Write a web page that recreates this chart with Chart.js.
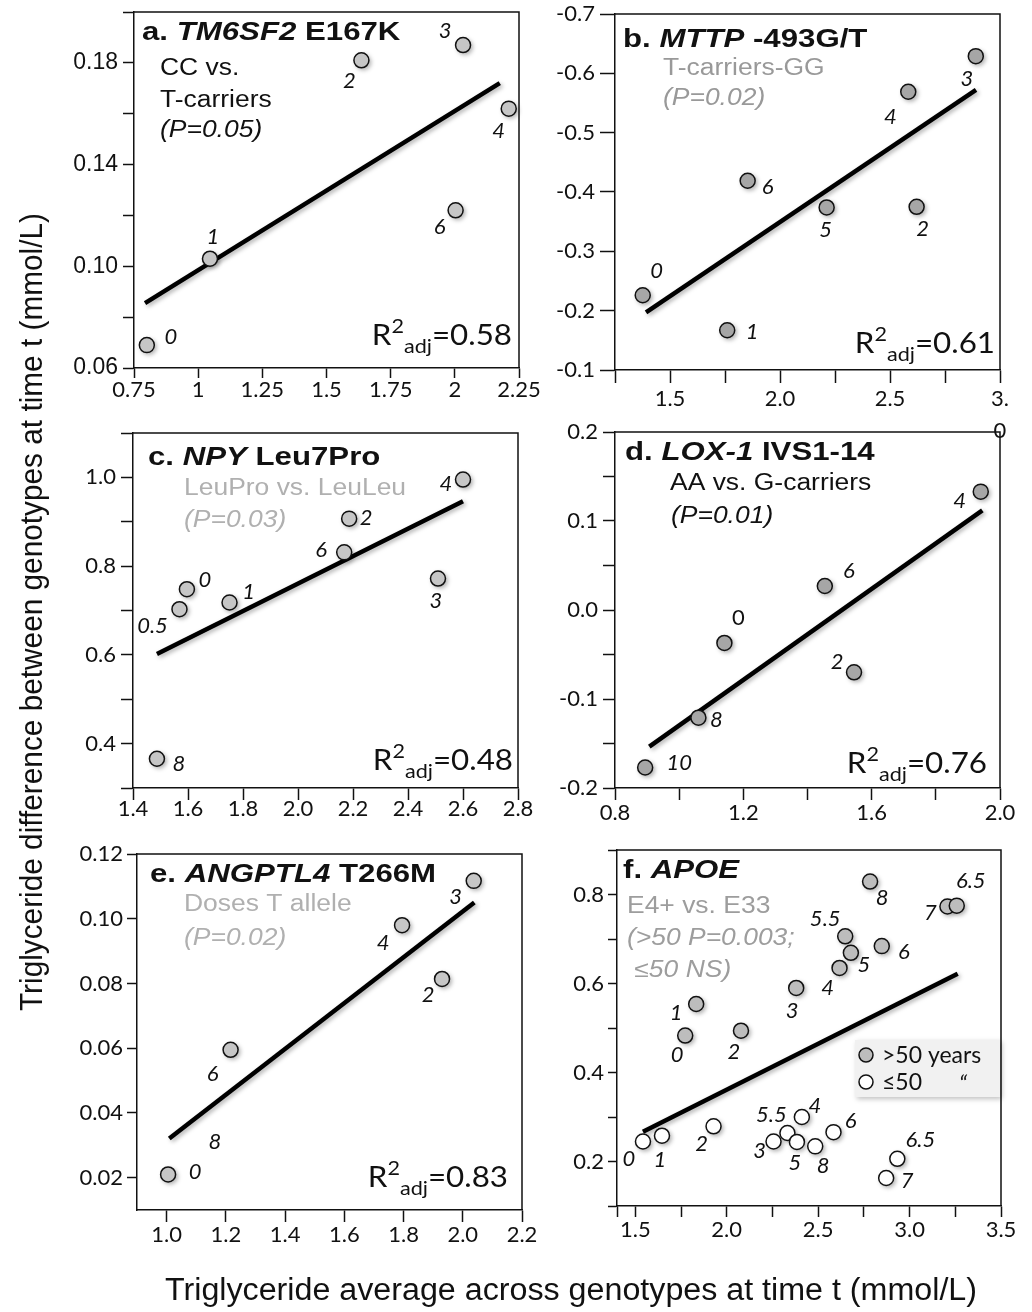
<!DOCTYPE html>
<html>
<head>
<meta charset="utf-8">
<script src="https://cdn.jsdelivr.net/npm/chart.js@4.4.1/dist/chart.umd.min.js"></script>
<style>
  body { margin: 0; background: #fff; width: 1032px; height: 1312px; position: relative; overflow: hidden; }
  canvas { position: absolute; }
  svg { position: absolute; left: 0; top: 0; }
</style>
</head>
<body>
<canvas id="pa"></canvas>
<canvas id="pb"></canvas>
<canvas id="pc"></canvas>
<canvas id="pd"></canvas>
<canvas id="pe"></canvas>
<canvas id="pf"></canvas>
<svg width="1032" height="1312">
  <text x="571" y="1300" text-anchor="middle" font-family="Liberation Sans Narrow, Liberation Sans, Arial, sans-serif" font-size="31" textLength="812" lengthAdjust="spacingAndGlyphs" fill="#111">Triglyceride average across genotypes at time t (mmol/L)</text>
  <text transform="translate(42,612) rotate(-90)" text-anchor="middle" font-family="Liberation Sans Narrow, Liberation Sans, Arial, sans-serif" font-size="31" textLength="798" lengthAdjust="spacingAndGlyphs" fill="#111">Triglyceride difference between genotypes at time t (mmol/L)</text>
</svg>
<script>
// ---- data (x = TG average, y = TG difference) ----

// a. TM6SF2 E167K
const aYears = ['0', '1', '2', '3', '4', '6'];
const aAvg   = [0.80, 1.046, 1.636, 2.032, 2.21, 2.003];
const aDiff  = [0.069, 0.103, 0.181, 0.187, 0.162, 0.122];
const aFitX  = [0.793, 2.175];
const aFitY  = [0.0855, 0.172];
const aXTicks  = [0.75, 1, 1.25, 1.5, 1.75, 2, 2.25];
const aXLabels = ['0.75', '1', '1.25', '1.5', '1.75', '2', '2.25'];
const aYTicks  = [0.06, 0.08, 0.10, 0.12, 0.14, 0.16, 0.18, 0.20];
const aYLabels = ['0.06', '', '0.10', '', '0.14', '', '0.18', ''];

// b. MTTP -493G/T
const bYears = ['0', '1', '6', '5', '2', '4', '3'];
const bAvg   = [1.376, 1.76, 1.853, 2.212, 2.621, 2.583, 2.89];
const bDiff  = [-0.226, -0.167, -0.419, -0.374, -0.375, -0.569, -0.629];
const bFitX  = [1.391, 2.891];
const bFitY  = [-0.197, -0.572];
const bXTicks  = [1.25, 1.5, 1.75, 2, 2.25, 2.5, 2.75, 3];
const bXLabels = ['', '1.5', '', '2.0', '', '2.5', '', ['3.', '0']];
const bYTicks  = [-0.7, -0.6, -0.5, -0.4, -0.3, -0.2, -0.1];
const bYLabels = ['-0.7', '-0.6', '-0.5', '-0.4', '-0.3', '-0.2', '-0.1'];

// c. NPY Leu7Pro
const cYears = ['8', '0.5', '0', '1', '6', '2', '3', '4'];
const cAvg   = [1.487, 1.569, 1.596, 1.751, 2.168, 2.186, 2.509, 2.60];
const cDiff  = [0.366, 0.703, 0.748, 0.718, 0.831, 0.907, 0.772, 0.995];
const cFitX  = [1.487, 2.60];
const cFitY  = [0.602, 0.946];
const cXTicks  = [1.4, 1.6, 1.8, 2.0, 2.2, 2.4, 2.6, 2.8];
const cXLabels = ['1.4', '1.6', '1.8', '2.0', '2.2', '2.4', '2.6', '2.8'];
const cYTicks  = [0.3, 0.4, 0.5, 0.6, 0.7, 0.8, 0.9, 1.0, 1.1];
const cYLabels = ['', '0.4', '', '0.6', '', '0.8', '', '1.0', ''];

// d. LOX-1 IVS1-14
const dYears = ['10', '8', '0', '6', '2', '4'];
const dAvg   = [0.894, 1.06, 1.141, 1.454, 1.545, 1.94];
const dDiff  = [-0.177, -0.121, -0.037, 0.027, -0.070, 0.133];
const dFitX  = [0.907, 1.945];
const dFitY  = [-0.1535, 0.112];
const dXTicks  = [0.8, 1.0, 1.2, 1.4, 1.6, 1.8, 2.0];
const dXLabels = ['0.8', '', '1.2', '', '1.6', '', '2.0'];
const dYTicks  = [-0.2, -0.15, -0.1, -0.05, 0, 0.05, 0.1, 0.15, 0.2];
const dYLabels = ['-0.2', '', '-0.1', '', '0.0', '', '0.1', '', '0.2'];

// e. ANGPTL4 T266M
const eYears = ['0', '6', '4', '2', '3'];
const eAvg   = [1.005, 1.216, 1.795, 1.93, 2.037];
const eDiff  = [0.021, 0.0595, 0.098, 0.0814, 0.1117];
const eFitX  = [1.009, 2.039];
const eFitY  = [0.0321, 0.105];
const eLoneLabel = { text: '8', x: 1.163, y: 0.031 };  // year label printed without a marker
const eXTicks  = [1.0, 1.2, 1.4, 1.6, 1.8, 2.0, 2.2];
const eXLabels = ['1.0', '1.2', '1.4', '1.6', '1.8', '2.0', '2.2'];
const eYTicks  = [0.02, 0.04, 0.06, 0.08, 0.10, 0.12];
const eYLabels = ['0.02', '0.04', '0.06', '0.08', '0.10', '0.12'];

// f. APOE  (>50 years filled, <=50 open)
const fOldYears = ['0', '1', '2', '3', '4', '5', '5.5', '6', '8', '7', '6.5'];
const fOldAvg   = [1.773, 1.833, 2.078, 2.38, 2.617, 2.679, 2.648, 2.848, 2.784, 3.207, 3.258];
const fOldDiff  = [0.483, 0.554, 0.494, 0.590, 0.635, 0.669, 0.706, 0.684, 0.829, 0.773, 0.775];
const fYoungYears = ['0', '1', '2', '3', '5.5', '5', '4', '8', '6', '6.5', '7'];
const fYoungAvg   = [1.542, 1.646, 1.928, 2.256, 2.332, 2.384, 2.411, 2.484, 2.584, 2.933, 2.872];
const fYoungDiff  = [0.245, 0.258, 0.279, 0.245, 0.264, 0.244, 0.300, 0.234, 0.266, 0.206, 0.163];
const fFitX  = [1.542, 3.263];
const fFitY  = [0.267, 0.622];
const fXTicks  = [1.4, 1.5, 1.75, 2.0, 2.25, 2.5, 2.75, 3.0, 3.25, 3.5];
const fXLabels = ['', '1.5', '', '2.0', '', '2.5', '', '3.0', '', '3.5'];
const fYTicks  = [0.1, 0.2, 0.3, 0.4, 0.5, 0.6, 0.7, 0.8, 0.9];
const fYLabels = ['', '0.2', '', '0.4', '', '0.6', '', '0.8', ''];

// ---- drawing helpers ----
const NUM = 'Lato, "Open Sans", sans-serif';
const TXT = '"Liberation Sans", Arial, sans-serif';
const specs = {};

// text with a horizontal stretch factor
function txt(ctx, s, x, y, font, color, align, sx) {
  sx = sx || 1;
  ctx.save();
  ctx.font = font;
  ctx.fillStyle = color;
  ctx.textAlign = 'left';
  ctx.textBaseline = 'alphabetic';
  const w = ctx.measureText(s).width * sx;
  const x0 = align === 'right' ? x - w : align === 'center' ? x - w / 2 : x;
  ctx.translate(x0, y);
  ctx.scale(sx, 1);
  ctx.fillText(s, 0, 0);
  ctx.restore();
  return w;
}

function measure(ctx, s, font, sx) {
  ctx.save(); ctx.font = font;
  const w = ctx.measureText(s).width * (sx || 1);
  ctx.restore();
  return w;
}

function axis(min, max, values, labels, o) {
  return {
    type: 'linear', min: min, max: max, reverse: !!o.reverse,
    afterBuildTicks: s => { s.ticks = values.map(v => ({ value: v })); },
    afterFit: s => {
      if (o.x) s.height = o.size; else s.width = o.size;
      s.paddingLeft = s.paddingRight = s.paddingTop = s.paddingBottom = 0;
    },
    ticks: {
      callback: (v, i) => labels[i],
      font: { family: o.family || NUM, size: o.fs || 22, lineHeight: o.lh || 1.2 },
      color: '#111', padding: o.pad, maxRotation: 0, minRotation: 0, autoSkip: false
    },
    grid: { drawOnChartArea: false, tickLength: o.tick, tickWidth: 1.5, tickColor: '#111', color: '#111' },
    border: { color: '#111', width: 1.5 }
  };
}

function pointSet(xs, ys, fill, label) {
  return {
    label: label,
    data: xs.map((v, i) => ({ x: v, y: ys[i] })),
    pointRadius: 7.5, pointHoverRadius: 7.5,
    pointBackgroundColor: fill, pointBorderColor: '#111', pointBorderWidth: 1.5,
    showLine: false, clip: false
  };
}

function fitSet(xs, ys) {
  return {
    data: xs.map((v, i) => ({ x: v, y: ys[i] })),
    showLine: true, borderColor: '#000', borderWidth: 4.5,
    pointRadius: 0, pointHoverRadius: 0, borderCapStyle: 'butt', clip: false
  };
}

// frame (top/right) and soft drop shadows under marks
const framePlugin = {
  id: 'frame',
  beforeDatasetsDraw(chart) {
    const ctx = chart.ctx, a = chart.chartArea;
    ctx.save();
    ctx.strokeStyle = '#111'; ctx.lineWidth = 1.5;
    ctx.beginPath();
    ctx.moveTo(a.left, a.top); ctx.lineTo(a.right, a.top); ctx.lineTo(a.right, a.bottom);
    ctx.stroke();
    ctx.filter = 'blur(2px)';
    ctx.fillStyle = ctx.strokeStyle = 'rgba(0,0,0,0.3)';
    chart.data.datasets.forEach((ds, i) => {
      const pts = chart.getDatasetMeta(i).data;
      if (ds.showLine) {
        ctx.lineWidth = ds.borderWidth;
        ctx.beginPath();
        pts.forEach((p, k) => k ? ctx.lineTo(p.x + 2, p.y + 2) : ctx.moveTo(p.x + 2, p.y + 2));
        ctx.stroke();
      } else {
        pts.forEach(p => { ctx.beginPath(); ctx.arc(p.x + 2, p.y + 2, 8, 0, Math.PI * 2); ctx.fill(); });
      }
    });
    ctx.restore();
  }
};

// panel title, test text, R2 and year labels
const textPlugin = {
  id: 'panelText',
  afterDatasetsDraw(chart) {
    const sp = specs[chart.canvas.id];
    if (!sp) return;
    const ctx = chart.ctx, a = chart.chartArea;

    // title: mixed bold / bold italic runs
    let x = a.left + sp.title.dx;
    sp.title.runs.forEach(r => {
      const f = (r[1] ? 'italic ' : '') + 'bold 26px ' + TXT;
      x += txt(ctx, r[0], x, a.top + sp.title.dy, f, '#111', 'left', 1.2);
    });

    // subtitle lines
    sp.sub.forEach(l => {
      const f = (l.it ? 'italic ' : '') + '23px ' + TXT;
      txt(ctx, l.t, a.left + l.dx, a.top + l.dy, f, sp.subColor, 'left', 1.15);
    });

    // R2adj
    if (sp.r2) {
      const big = '29px ' + NUM, small = '20px ' + NUM;
      const parts = [['R', big, 0], ['2', small, -12], ['adj', small, 8], ['=' + sp.r2.v, big, 0]];
      const total = parts.reduce((s, p) => s + measure(ctx, p[0], p[1], 1.08), 0);
      let rx = a.right + sp.r2.dx - total;
      const by = a.bottom + sp.r2.dy;
      parts.forEach(p => { rx += txt(ctx, p[0], rx, by + p[2], p[1], '#111', 'left', 1.08); });
    }

    // year labels next to markers
    sp.labels.forEach(L => {
      const pts = chart.getDatasetMeta(L.set).data;
      L.text.forEach((t, i) => {
        const up = L.upright && L.upright.indexOf(i) >= 0;
        txt(ctx, t, pts[i].x + L.off[i][0], pts[i].y + L.off[i][1] + 7, (up ? '' : 'italic ') + '22px ' + NUM, '#111', 'center', 1);
      });
    });

    if (sp.lone) {
      const px = chart.scales.x.getPixelForValue(sp.lone.x);
      const py = chart.scales.y.getPixelForValue(sp.lone.y);
      txt(ctx, sp.lone.text, px, py + 7, 'italic 22px ' + NUM, '#111', 'center', 1);
    }

    // legend (panel f)
    if (sp.legend) {
      const g = sp.legend;
      const lx = a.right - g.w, ly = a.top + g.dy;
      ctx.save();
      ctx.shadowColor = 'rgba(0,0,0,0.25)'; ctx.shadowBlur = 5; ctx.shadowOffsetX = 2; ctx.shadowOffsetY = 2;
      ctx.fillStyle = '#f1f1f1';
      ctx.fillRect(lx, ly, g.w - 1, g.h);
      ctx.restore();
      chart.data.datasets.forEach((ds, i) => {
        if (ds.showLine) return;
        const cy = ly + 15 + i * 27;
        ctx.save();
        ctx.beginPath(); ctx.arc(lx + 11, cy, 7, 0, Math.PI * 2);
        ctx.fillStyle = ds.pointBackgroundColor; ctx.fill();
        ctx.lineWidth = 1.5; ctx.strokeStyle = '#111'; ctx.stroke();
        ctx.restore();
        txt(ctx, ds.label, lx + 27, cy + 8, '23px ' + NUM, '#111', 'left', 1);
      });
      txt(ctx, '\u201C', lx + 104, ly + 52, 'italic 23px ' + NUM, '#111', 'left', 1);
    }
  }
};

function makePanel(id, rect, xMin, xMax, xT, xL, xo, yMin, yMax, yT, yL, yo, datasets, spec) {
  const L = rect[0], T = rect[1], R = rect[2], B = rect[3];
  const pl = 90, pt = 20, pr = 30, pb = 80;
  const cv = document.getElementById(id);
  const w = R - L + pl + pr, h = B - T + pt + pb;
  cv.width = w; cv.height = h;
  cv.style.left = (L - pl) + 'px'; cv.style.top = (T - pt) + 'px';
  cv.style.width = w + 'px'; cv.style.height = h + 'px';
  specs[id] = spec;
  xo.x = true; xo.size = pb;
  yo.size = pl;
  new Chart(cv, {
    type: 'scatter',
    data: { datasets: datasets },
    options: {
      responsive: false, animation: false, events: [],
      layout: { padding: { top: pt, right: pr, left: 0, bottom: 0 } },
      scales: {
        x: axis(xMin, xMax, xT, xL, xo),
        y: axis(yMin, yMax, yT, yL, yo)
      },
      plugins: { legend: { display: false }, tooltip: { enabled: false } }
    },
    plugins: [framePlugin, textPlugin]
  });
}

const GREY_A = '#c6c6c6', GREY_B = '#a6a6a6';

makePanel('pa', [134, 12, 519, 368], 0.75, 2.25, aXTicks, aXLabels, { tick: 10, pad: -1 },
  0.06, 0.20, aYTicks, aYLabels, { tick: 11, pad: 5, family: TXT, fs: 23 },
  [pointSet(aAvg, aDiff, GREY_A), fitSet(aFitX, aFitY)],
  {
    title: { dx: 8, dy: 28, runs: [['a. ', 0], ['TM6SF2', 1], [' E167K', 0]] },
    subColor: '#111',
    sub: [{ t: 'CC vs.', dx: 26, dy: 63 }, { t: 'T-carriers', dx: 26, dy: 95 }, { t: '(P=0.05)', dx: 26, dy: 125, it: 1 }],
    r2: { v: '0.58', dx: -7, dy: -23 },
    labels: [{ set: 0, text: aYears, off: [[24, -8], [3, -22], [-12, 21], [-18, -14], [-10, 22], [-16, 17]] }]
  });

makePanel('pb', [615, 14, 1000, 370], 1.25, 3.0, bXTicks, bXLabels, { tick: 13, pad: 0, lh: 1.45 },
  -0.7, -0.1, bYTicks, bYLabels, { tick: 15, pad: 5, reverse: true },
  [pointSet(bAvg, bDiff, GREY_B), fitSet(bFitX, bFitY)],
  {
    title: { dx: 8, dy: 33, runs: [['b. ', 0], ['MTTP', 1], [' -493G/T', 0]] },
    subColor: '#999',
    sub: [{ t: 'T-carriers-GG', dx: 48, dy: 61 }, { t: '(P=0.02)', dx: 48, dy: 91, it: 1 }],
    r2: { v: '0.61', dx: -5, dy: -17 },
    labels: [{ set: 0, text: bYears, off: [[14, -24], [25, 2], [20, 6], [-1, 23], [6, 22], [-18, 25], [-9, 23]] }]
  });

makePanel('pc', [133, 433, 518, 788], 1.4, 2.8, cXTicks, cXLabels, { tick: 12, pad: -4 },
  0.3, 1.1, cYTicks, cYLabels, { tick: 12, pad: 5 },
  [pointSet(cAvg, cDiff, GREY_A), fitSet(cFitX, cFitY)],
  {
    title: { dx: 15, dy: 32, runs: [['c. ', 0], ['NPY', 1], [' Leu7Pro', 0]] },
    subColor: '#b0b0b0',
    sub: [{ t: 'LeuPro vs. LeuLeu', dx: 51, dy: 62 }, { t: '(P=0.03)', dx: 51, dy: 94, it: 1 }],
    r2: { v: '0.48', dx: -5, dy: -18 },
    labels: [{ set: 0, text: cYears, off: [[22, 5], [-27, 17], [18, -9], [19, -11], [-23, -2], [17, -1], [-2, 22], [-17, 4]] }]
  });

makePanel('pd', [615, 432, 1000, 788], 0.8, 2.0, dXTicks, dXLabels, { tick: 12, pad: 0 },
  -0.2, 0.2, dYTicks, dYLabels, { tick: 12, pad: 5 },
  [pointSet(dAvg, dDiff, GREY_B), fitSet(dFitX, dFitY)],
  {
    title: { dx: 10, dy: 28, runs: [['d. ', 0], ['LOX-1', 1], [' IVS1-14', 0]] },
    subColor: '#111',
    sub: [{ t: 'AA vs. G-carriers', dx: 55, dy: 58 }, { t: '(P=0.01)', dx: 56, dy: 91, it: 1 }],
    r2: { v: '0.76', dx: -13, dy: -15 },
    labels: [{ set: 0, text: dYears, off: [[34, -5], [18, 2], [14, -25], [24, -15], [-17, -10], [-21, 9]], upright: [2] }]
  });

makePanel('pe', [137, 854, 522, 1210], 0.9, 2.2, eXTicks, eXLabels, { tick: 12, pad: 0 },
  0.01, 0.12, eYTicks, eYLabels, { tick: 10, pad: 4 },
  [pointSet(eAvg, eDiff, GREY_A), fitSet(eFitX, eFitY)],
  {
    title: { dx: 13, dy: 28, runs: [['e. ', 0], ['ANGPTL4', 1], [' T266M', 0]] },
    subColor: '#b0b0b0',
    sub: [{ t: 'Doses T allele', dx: 47, dy: 57 }, { t: '(P=0.02)', dx: 47, dy: 91, it: 1 }],
    r2: { v: '0.83', dx: -14, dy: -23 },
    labels: [{ set: 0, text: eYears, off: [[27, -2], [-18, 24], [-19, 18], [-14, 16], [-18, 16]] }],
    lone: eLoneLabel
  });

makePanel('pf', [617, 850, 1001, 1206], 1.4, 3.5, fXTicks, fXLabels, { tick: 11, pad: 0 },
  0.1, 0.9, fYTicks, fYLabels, { tick: 9, pad: 4 },
  [pointSet(fOldAvg, fOldDiff, '#bdbdbd', '>50 years'), pointSet(fYoungAvg, fYoungDiff, '#ffffff', '\u226450'), fitSet(fFitX, fFitY)],
  {
    title: { dx: 6, dy: 28, runs: [['f. ', 0], ['APOE', 1]] },
    subColor: '#9d9d9d',
    sub: [{ t: 'E4+ vs. E33', dx: 10, dy: 63 }, { t: '(>50 P=0.003;', dx: 10, dy: 95, it: 1 }, { t: ' \u226450 NS)', dx: 10, dy: 127, it: 1 }],
    labels: [
      { set: 0, text: fOldYears, off: [[-8, 19], [-20, 9], [-7, 21], [-4, 23], [-12, 20], [13, 12], [-20, -17], [22, 6], [12, 16], [-17, 6], [14, -25]] },
      { set: 1, text: fYoungYears, off: [[-14, 18], [-2, 24], [-12, 18], [-14, 10], [-16, -18], [-2, 21], [13, -11], [8, 20], [17, -11], [23, -19], [21, 3]] }
    ],
    legend: { w: 146, h: 57, dy: 190 }
  });
</script>
</body>
</html>
